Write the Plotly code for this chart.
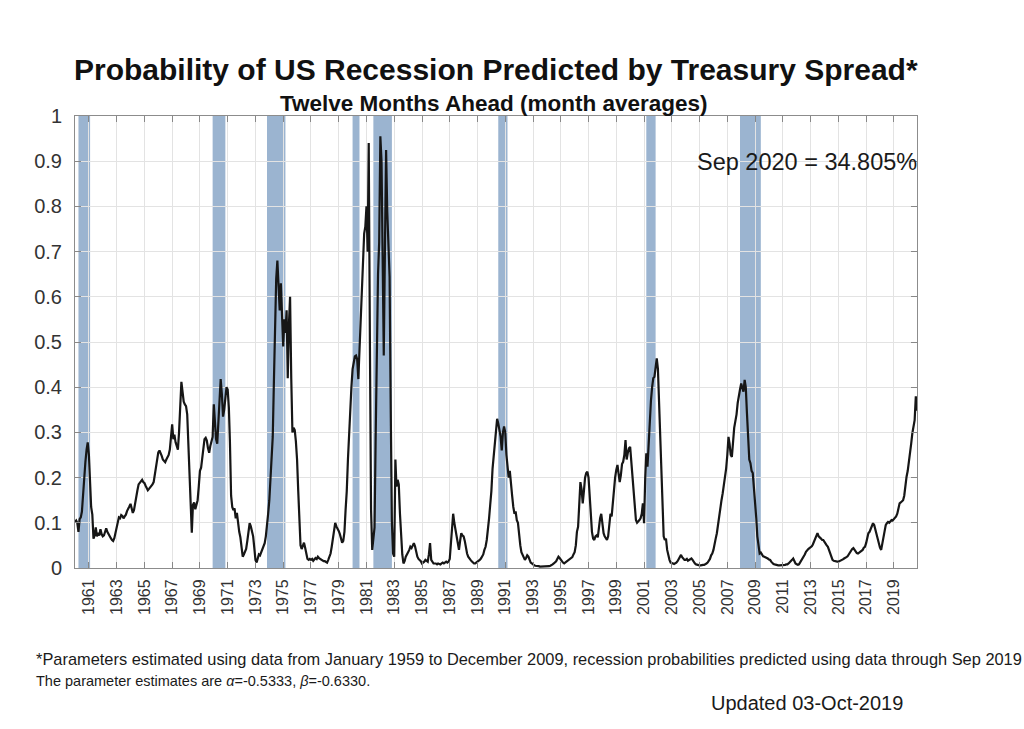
import plotly.graph_objects as go
import pandas as pd

# Monthly recession probability (12 months ahead), Jan 1960 .. Sep 2020
y1960 = [0.102, 0.105, 0.100, 0.080, 0.108, 0.112, 0.125, 0.170, 0.205, 0.235, 0.262, 0.278]
y1961 = [0.250, 0.200, 0.135, 0.118, 0.065, 0.072, 0.090, 0.070, 0.078, 0.072, 0.086, 0.075]
y1962 = [0.070, 0.072, 0.083, 0.088, 0.080, 0.074, 0.070, 0.066, 0.062, 0.060, 0.066, 0.078]
y1963 = [0.090, 0.105, 0.112, 0.110, 0.117, 0.115, 0.110, 0.114, 0.118, 0.126, 0.130, 0.136]
y1964 = [0.142, 0.132, 0.122, 0.128, 0.140, 0.155, 0.172, 0.185, 0.188, 0.192, 0.195, 0.190]
y1965 = [0.188, 0.182, 0.176, 0.172, 0.175, 0.178, 0.182, 0.185, 0.190, 0.205, 0.225, 0.245]
y1966 = [0.256, 0.260, 0.255, 0.248, 0.240, 0.236, 0.234, 0.240, 0.244, 0.250, 0.262, 0.285]
y1967 = [0.318, 0.285, 0.295, 0.278, 0.270, 0.262, 0.300, 0.360, 0.412, 0.390, 0.368, 0.362]
y1968 = [0.358, 0.340, 0.280, 0.200, 0.130, 0.078, 0.140, 0.145, 0.130, 0.142, 0.150, 0.180]
y1969 = [0.215, 0.222, 0.245, 0.262, 0.285, 0.288, 0.282, 0.265, 0.255, 0.270, 0.282, 0.290]
y1970 = [0.362, 0.320, 0.285, 0.275, 0.330, 0.380, 0.418, 0.385, 0.335, 0.350, 0.380, 0.400]
y1971 = [0.395, 0.355, 0.280, 0.160, 0.135, 0.128, 0.132, 0.110, 0.122, 0.095, 0.080, 0.068]
y1972 = [0.050, 0.025, 0.030, 0.038, 0.042, 0.060, 0.085, 0.099, 0.092, 0.078, 0.070, 0.045]
y1973 = [0.018, 0.012, 0.020, 0.030, 0.028, 0.035, 0.040, 0.048, 0.055, 0.070, 0.090, 0.120]
y1974 = [0.150, 0.200, 0.240, 0.290, 0.410, 0.520, 0.640, 0.680, 0.620, 0.570, 0.630, 0.560]
y1975 = [0.490, 0.550, 0.520, 0.570, 0.420, 0.540, 0.600, 0.420, 0.300, 0.310, 0.305, 0.280]
y1976 = [0.240, 0.170, 0.110, 0.050, 0.042, 0.052, 0.056, 0.045, 0.030, 0.020, 0.018, 0.020]
y1977 = [0.018, 0.020, 0.016, 0.018, 0.022, 0.020, 0.025, 0.022, 0.020, 0.018, 0.016, 0.015]
y1978 = [0.015, 0.014, 0.012, 0.018, 0.025, 0.032, 0.047, 0.065, 0.085, 0.100, 0.092, 0.088]
y1979 = [0.082, 0.075, 0.065, 0.056, 0.060, 0.080, 0.128, 0.170, 0.240, 0.300, 0.360, 0.400]
y1980 = [0.440, 0.455, 0.468, 0.470, 0.462, 0.418, 0.480, 0.540, 0.610, 0.700, 0.740, 0.755]
y1981 = [0.800, 0.700, 0.940, 0.500, 0.130, 0.040, 0.060, 0.090, 0.300, 0.500, 0.650, 0.720]
y1982 = [0.955, 0.900, 0.645, 0.470, 0.700, 0.925, 0.790, 0.720, 0.645, 0.350, 0.100, 0.032]
y1983 = [0.025, 0.240, 0.180, 0.195, 0.185, 0.120, 0.070, 0.030, 0.010, 0.015, 0.025, 0.032]
y1984 = [0.035, 0.040, 0.047, 0.044, 0.050, 0.055, 0.048, 0.035, 0.025, 0.020, 0.018, 0.015]
y1985 = [0.010, 0.012, 0.014, 0.018, 0.016, 0.014, 0.030, 0.055, 0.018, 0.012, 0.010, 0.010]
y1986 = [0.010, 0.008, 0.010, 0.009, 0.008, 0.010, 0.012, 0.010, 0.012, 0.014, 0.012, 0.014]
y1987 = [0.020, 0.062, 0.090, 0.120, 0.100, 0.084, 0.070, 0.060, 0.040, 0.060, 0.077, 0.072]
y1988 = [0.070, 0.060, 0.045, 0.032, 0.025, 0.020, 0.018, 0.015, 0.012, 0.010, 0.010, 0.012]
y1989 = [0.012, 0.015, 0.018, 0.021, 0.025, 0.030, 0.040, 0.047, 0.062, 0.080, 0.110, 0.140]
y1990 = [0.170, 0.220, 0.246, 0.275, 0.310, 0.330, 0.320, 0.305, 0.290, 0.260, 0.300, 0.313]
y1991 = [0.300, 0.250, 0.220, 0.200, 0.215, 0.180, 0.160, 0.135, 0.120, 0.125, 0.106, 0.100]
y1992 = [0.070, 0.050, 0.035, 0.028, 0.021, 0.018, 0.022, 0.028, 0.025, 0.018, 0.012, 0.010]
y1993 = [0.007, 0.006, 0.005, 0.005, 0.004, 0.004, 0.003, 0.003, 0.003, 0.003, 0.003, 0.004]
y1994 = [0.003, 0.003, 0.004, 0.005, 0.006, 0.008, 0.010, 0.012, 0.015, 0.020, 0.025, 0.022]
y1995 = [0.018, 0.014, 0.012, 0.010, 0.012, 0.014, 0.016, 0.018, 0.020, 0.021, 0.024, 0.030]
y1996 = [0.035, 0.050, 0.080, 0.091, 0.130, 0.190, 0.175, 0.143, 0.170, 0.200, 0.210, 0.213]
y1997 = [0.200, 0.150, 0.110, 0.080, 0.065, 0.062, 0.070, 0.072, 0.068, 0.090, 0.110, 0.120]
y1998 = [0.095, 0.077, 0.070, 0.065, 0.062, 0.070, 0.100, 0.120, 0.114, 0.150, 0.180, 0.200]
y1999 = [0.217, 0.228, 0.210, 0.190, 0.205, 0.230, 0.235, 0.250, 0.283, 0.240, 0.255, 0.265]
y2000 = [0.268, 0.230, 0.202, 0.160, 0.125, 0.106, 0.100, 0.102, 0.106, 0.110, 0.120, 0.143]
y2001 = [0.099, 0.200, 0.254, 0.224, 0.280, 0.327, 0.370, 0.400, 0.420, 0.423, 0.445, 0.464]
y2002 = [0.440, 0.364, 0.300, 0.220, 0.150, 0.070, 0.062, 0.065, 0.040, 0.025, 0.018, 0.012]
y2003 = [0.010, 0.010, 0.009, 0.010, 0.012, 0.015, 0.020, 0.025, 0.029, 0.024, 0.020, 0.018]
y2004 = [0.018, 0.020, 0.016, 0.018, 0.020, 0.021, 0.018, 0.012, 0.010, 0.008, 0.007, 0.007]
y2005 = [0.006, 0.006, 0.007, 0.007, 0.007, 0.008, 0.010, 0.012, 0.016, 0.020, 0.028, 0.032]
y2006 = [0.040, 0.050, 0.065, 0.077, 0.095, 0.115, 0.140, 0.150, 0.165, 0.185, 0.195, 0.220]
y2007 = [0.250, 0.290, 0.275, 0.250, 0.246, 0.280, 0.310, 0.325, 0.340, 0.365, 0.386, 0.395]
y2008 = [0.408, 0.400, 0.390, 0.416, 0.400, 0.342, 0.300, 0.240, 0.232, 0.215, 0.210, 0.180]
y2009 = [0.136, 0.110, 0.070, 0.050, 0.032, 0.034, 0.029, 0.026, 0.025, 0.024, 0.022, 0.021]
y2010 = [0.019, 0.018, 0.014, 0.010, 0.009, 0.008, 0.007, 0.007, 0.006, 0.006, 0.006, 0.006]
y2011 = [0.006, 0.007, 0.007, 0.008, 0.008, 0.010, 0.012, 0.015, 0.018, 0.021, 0.015, 0.010]
y2012 = [0.008, 0.007, 0.008, 0.012, 0.016, 0.020, 0.025, 0.030, 0.036, 0.040, 0.042, 0.044]
y2013 = [0.046, 0.048, 0.052, 0.058, 0.065, 0.072, 0.077, 0.070, 0.068, 0.065, 0.062, 0.062]
y2014 = [0.058, 0.052, 0.050, 0.047, 0.040, 0.030, 0.022, 0.018, 0.016, 0.015, 0.014, 0.014]
y2015 = [0.014, 0.015, 0.016, 0.017, 0.019, 0.021, 0.022, 0.024, 0.026, 0.030, 0.035, 0.040]
y2016 = [0.042, 0.044, 0.040, 0.035, 0.033, 0.032, 0.034, 0.036, 0.038, 0.040, 0.045, 0.047]
y2017 = [0.055, 0.065, 0.077, 0.080, 0.088, 0.095, 0.099, 0.095, 0.085, 0.072, 0.065, 0.055]
y2018 = [0.045, 0.040, 0.055, 0.070, 0.085, 0.095, 0.099, 0.102, 0.100, 0.104, 0.106, 0.105]
y2019 = [0.108, 0.110, 0.114, 0.120, 0.130, 0.143, 0.145, 0.148, 0.150, 0.160, 0.185, 0.202]
y2020 = [0.215, 0.232, 0.250, 0.275, 0.298, 0.315, 0.327, 0.380, 0.34805]

yearly = [y1960, y1961, y1962, y1963, y1964, y1965, y1966, y1967, y1968, y1969,
          y1970, y1971, y1972, y1973, y1974, y1975, y1976, y1977, y1978, y1979,
          y1980, y1981, y1982, y1983, y1984, y1985, y1986, y1987, y1988, y1989,
          y1990, y1991, y1992, y1993, y1994, y1995, y1996, y1997, y1998, y1999,
          y2000, y2001, y2002, y2003, y2004, y2005, y2006, y2007, y2008, y2009,
          y2010, y2011, y2012, y2013, y2014, y2015, y2016, y2017, y2018, y2019,
          y2020]

# NBER recession periods (start, end)
recession_start = ["1960-04-01", "1969-12-01", "1973-11-01", "1980-01-01",
                   "1981-07-01", "1990-07-01", "2001-03-01", "2007-12-01"]
recession_end = ["1961-02-01", "1970-11-01", "1975-03-01", "1980-07-01",
                 "1982-11-01", "1991-03-01", "2001-11-01", "2009-06-01"]

title_text = "Probability of US Recession Predicted by Treasury Spread*"
subtitle_text = "Twelve Months Ahead (month averages)"
last_label = "Sep 2020 = 34.805%"
note1 = ("*Parameters estimated using data from January 1959 to December 2009, "
         "recession probabilities predicted using data through Sep 2019")
note2 = "The parameter estimates are <i>α</i>=-0.5333, <i>β</i>=-0.6330."
updated = "Updated 03-Oct-2019"

values = [v for yr in yearly for v in yr]
dates = pd.date_range("1960-01-01", periods=len(values), freq="MS")

fig = go.Figure()
fig.add_trace(go.Scatter(x=dates, y=values, mode="lines",
                         line=dict(color="#161616", width=2.2),
                         showlegend=False, hoverinfo="x+y"))

for s, e in zip(recession_start, recession_end):
    fig.add_shape(type="rect", xref="x", yref="paper", x0=s, x1=e, y0=0, y1=1,
                  fillcolor="#9bb4d0", line=dict(width=0), layer="between")

FONT = "Liberation Sans, Arial, sans-serif"

fig.update_layout(
    width=1024, height=729,
    margin=dict(l=75, r=107, t=116, b=161),
    paper_bgcolor="white", plot_bgcolor="white",
    font=dict(family=FONT, color="#262626"),
    showlegend=False,
)

fig.update_xaxes(
    type="date", range=["1960-01-01", "2020-09-01"],
    tick0="1961-01-01", dtick="M24", tickformat="%Y", tickangle=-90,
    tickfont=dict(size=16, color="#333333"),
    ticks="inside", ticklen=6, tickcolor="#888888",
    showgrid=True, gridcolor="#e3e3e3", gridwidth=1,
    showline=True, linecolor="#8c8c8c", linewidth=1, mirror="allticks",
    zeroline=False, ticklabelstandoff=4,
)
fig.update_yaxes(
    range=[0, 1], dtick=0.1, tick0=0, tickformat="~g",
    tickfont=dict(size=20, color="#333333"),
    ticks="inside", ticklen=6, tickcolor="#888888",
    showgrid=True, gridcolor="#e3e3e3", gridwidth=1,
    showline=True, linecolor="#8c8c8c", linewidth=1, mirror="allticks",
    zeroline=False, ticklabelstandoff=8,
)

fig.add_annotation(text="<b>" + title_text + "</b>", xref="paper", yref="paper",
                   x=0.5, y=1, xshift=0, yshift=28, xanchor="center", yanchor="bottom",
                   showarrow=False, font=dict(size=30, color="#111111", family=FONT))
fig.add_annotation(text="<b>" + subtitle_text + "</b>", xref="paper", yref="paper",
                   x=0.5, y=1, xshift=-2, yshift=27, xanchor="center", yanchor="top",
                   showarrow=False, font=dict(size=22.5, color="#111111", family=FONT))
fig.add_annotation(text=last_label, xref="paper", yref="paper",
                   x=1, y=1, xshift=2, yshift=-46, xanchor="right", yanchor="middle",
                   showarrow=False, font=dict(size=23.5, color="#1a1a1a", family=FONT))
fig.add_annotation(text=note1, xref="paper", yref="paper",
                   x=0, y=0, xshift=-41, yshift=-91, xanchor="left", yanchor="middle",
                   showarrow=False, font=dict(size=16.4, color="#1a1a1a", family=FONT))
fig.add_annotation(text=note2, xref="paper", yref="paper",
                   x=0, y=0, xshift=-41, yshift=-113, xanchor="left", yanchor="middle",
                   showarrow=False, font=dict(size=14.5, color="#1a1a1a", family=FONT))
fig.add_annotation(text=updated, xref="paper", yref="paper",
                   x=0, y=0, xshift=634, yshift=-135, xanchor="left", yanchor="middle",
                   showarrow=False, font=dict(size=20, color="#1a1a1a", family=FONT))

fig.write_html("out.html")
